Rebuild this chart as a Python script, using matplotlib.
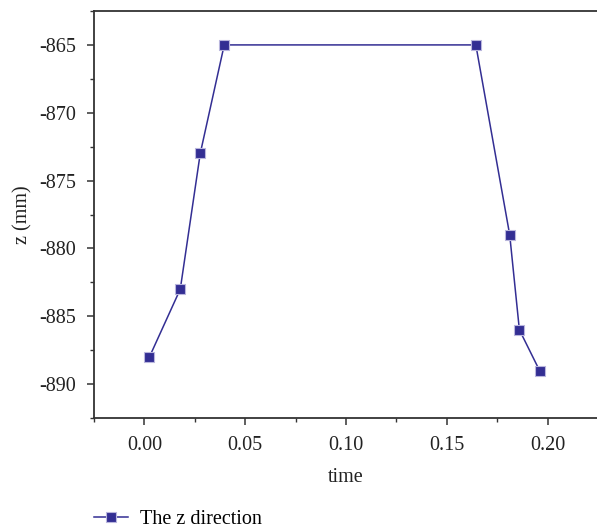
import numpy as np
import matplotlib.pyplot as plt
from matplotlib.ticker import MultipleLocator

# time / z values
time = [0.0025, 0.0178, 0.0277, 0.0396, 0.1644, 0.1812, 0.1860, 0.1960]
z_mm = [-888, -883, -873, -865, -865, -879, -886, -889]

plt.rcParams['font.family'] = ['Liberation Serif', 'DejaVu Serif']
plt.rcParams['font.size'] = 14.5

fig = plt.figure(figsize=(5.97, 5.30), dpi=100)
ax = fig.add_axes([94/597, 1 - 418/530, 1 - 94/597, (418 - 11)/530])

col = '#332e93'
ax.plot(time, z_mm, color=col, lw=1.1, marker='s', markersize=7.5,
        markerfacecolor=col, markeredgecolor='#b9b6dd', markeredgewidth=0.8,
        label='The z direction')

ax.set_xlim(-0.025, 0.2245)
ax.set_ylim(-892.5, -862.5)
ax.xaxis.set_minor_locator(MultipleLocator(0.025))
ax.yaxis.set_minor_locator(MultipleLocator(2.5))
ax.set_xticks(np.arange(0, 0.21, 0.05))
ax.set_xticklabels(['0.00', '0.05', '0.10', '0.15', '0.20'])
ax.set_yticks([-865, -870, -875, -880, -885, -890])
ax.set_yticklabels(['-865', '-870', '-875', '-880', '-885', '-890'])

for s in ['left', 'bottom', 'top']:
    ax.spines[s].set_color('#333333')
    ax.spines[s].set_linewidth(1.3)
ax.spines['right'].set_visible(False)
ax.tick_params(which='major', direction='out', length=5, width=1.1, color='#333333',
               labelcolor='#222222', pad=8)
ax.tick_params(which='minor', direction='out', length=3, width=1.0, color='#333333')
ax.tick_params(top=False, right=False, which='both')

ax.set_xlabel('time', color='#222222', labelpad=9)
ax.set_ylabel('z (mm)', color='#222222', labelpad=5)

fig.legend(loc='center left', bbox_to_anchor=(94/597, 1 - 519/530), frameon=False,
           handlelength=1.7, handletextpad=0.6, borderaxespad=0, borderpad=0)

fig.savefig('out.png', dpi=100)
